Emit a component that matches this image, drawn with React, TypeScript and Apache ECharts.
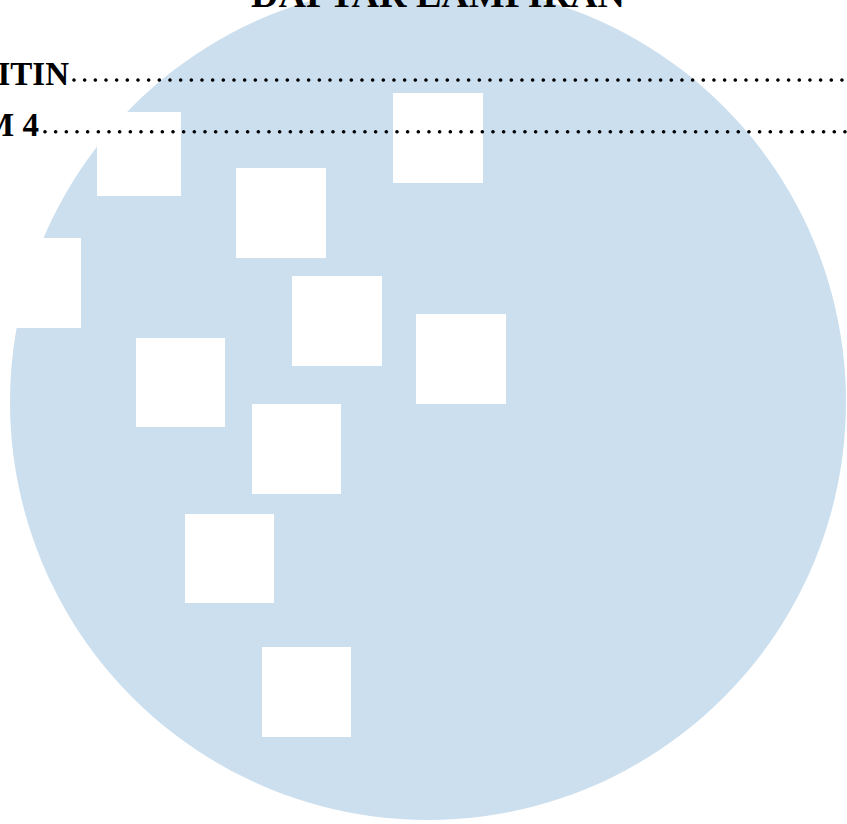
import React, { useEffect, useRef } from "react";
import * as echarts from "echarts";

const titleText = "DAFTAR LAMPIRAN";
const entryLabels = ["ITIN", "M 4"];
const squareIds = ["s1", "s2", "s3", "s4", "s5", "s6", "s7", "s8", "s9", "s10"];

// layout (pixels) kept separate from content
const squareBoxes: number[][] = [
  [97, 112, 84, 84],
  [236, 168, 90, 90],
  [393, 93, 90, 90],
  [-9, 238, 90, 90],
  [292, 276, 90, 90],
  [416, 314, 90, 90],
  [136, 338, 89, 89],
  [252, 404, 89, 90],
  [185, 514, 89, 89],
  [262, 647, 89, 90],
];
const entryLayout = [
  { textRight: 69, baseline: 83, dotsStart: 74, dotsY: 80 },
  { textRight: 39, baseline: 134.5, dotsStart: 45, dotsY: 131.7 },
];
const DOT_STEP = 10.666;

export default function App() {
  const ref = useRef<HTMLDivElement>(null);
  useEffect(() => {
    if (!ref.current) return;
    const chart = echarts.init(ref.current, undefined, { renderer: "svg" });
    const fontFamily = "'Liberation Serif', 'Times New Roman', serif";
    const graphics: any[] = [];
    graphics.push({
      type: "circle",
      shape: { cx: 428, cy: 402, r: 418 },
      style: { fill: "#CCDFEE" },
      z: 1,
    });
    squareIds.forEach((id, i) => {
      const [x, y, w, h] = squareBoxes[i];
      graphics.push({
        type: "rect",
        id,
        shape: { x, y, width: w, height: h },
        style: { fill: "#ffffff" },
        z: 2,
      });
    });
    graphics.push({
      type: "text",
      x: 438,
      y: 13,
      style: {
        text: titleText,
        font: `bold 38px ${fontFamily}`,
        fill: "#000",
        align: "center",
        verticalAlign: "bottom",
      },
      z: 5,
    });
    entryLabels.forEach((label, i) => {
      const l = entryLayout[i];
      graphics.push({
        type: "text",
        x: l.textRight,
        y: l.baseline + 7,
        style: {
          text: label,
          font: `bold 33px ${fontFamily}`,
          fill: "#000",
          align: "right",
          verticalAlign: "bottom",
        },
        z: 5,
      });
      for (let x = l.dotsStart; x < 850; x += DOT_STEP) {
        graphics.push({
          type: "circle",
          shape: { cx: x, cy: l.dotsY, r: 1.8 },
          style: { fill: "#000" },
          silent: true,
          z: 5,
        });
      }
    });
    chart.setOption({
      animation: false,
      backgroundColor: "#ffffff",
      graphic: graphics,
    });
    return () => chart.dispose();
  }, []);
  return (
    <div
      ref={ref}
      style={{ position: "fixed", left: 0, top: 0, width: 847, height: 824 }}
    />
  );
}
